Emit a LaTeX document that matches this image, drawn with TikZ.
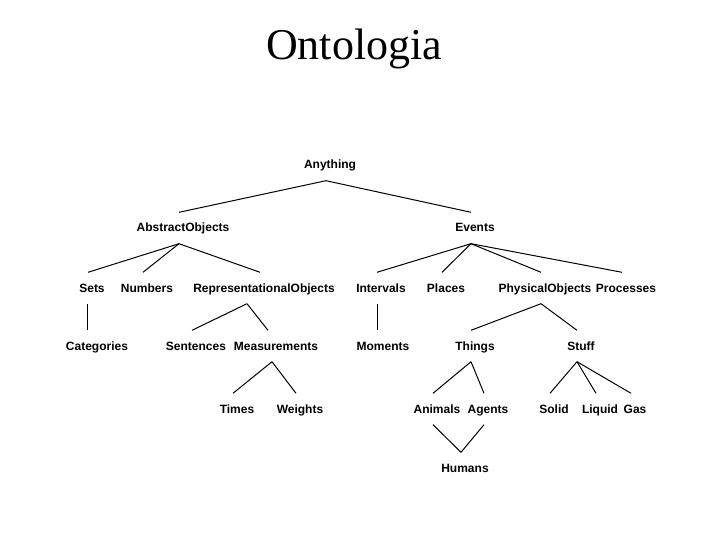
\documentclass[tikz,border=0pt]{standalone}
\usepackage{fontspec}
\setmainfont{Liberation Serif}
\setsansfont{Liberation Sans}

\begin{document}
\begin{tikzpicture}[x=1pt,y=-1pt,
    term/.style={font=\sffamily\bfseries\fontsize{12}{14}\selectfont,
      anchor=base, text height=12.5pt, text depth=4.5pt,
      inner xsep=0pt, inner ysep=7pt},
    link/.style={line width=1pt}]
  \useasboundingbox (0,0) rectangle (720,540);
  \node[font=\fontsize{44}{50}\selectfont, anchor=base] (title) at (354,60) {Ontologia};
  % top levels
  \node[term] (any) at (330,169) {Anything};
  \node[term] (abs) at (183,232) {AbstractObjects};
  \node[term] (ev) at (475,232) {Events};
  % third row
  \node[term] (sets) at (92,292) {Sets};
  \node[term] (num) at (147,292) {Numbers};
  \node[term] (repr) at (264,292) {RepresentationalObjects};
  \node[term] (intv) at (381,292) {Intervals};
  \node[term] (plc) at (446,292) {Places};
  \node[term] (phys) at (545,292) {PhysicalObjects};
  \node[term] (proc) at (626,292) {Processes};
  % fourth row
  \node[term] (cat) at (97,350) {Categories};
  \node[term] (sent) at (196,350) {Sentences};
  \node[term] (meas) at (276,350) {Measurements};
  \node[term] (mom) at (383,350) {Moments};
  \node[term] (thg) at (475,350) {Things};
  \node[term] (stf) at (581,350) {Stuff};
  % fifth row
  \node[term] (tim) at (237,413) {Times};
  \node[term] (wgt) at (300,413) {Weights};
  \node[term] (anim) at (437,413) {Animals};
  \node[term] (agt) at (488,413) {Agents};
  \node[term] (sol) at (554,413) {Solid};
  \node[term] (liq) at (600,413) {Liquid};
  \node[term] (gas) at (635,413) {Gas};
  \node[term] (hum) at (465,472) {Humans};
  % links
  \foreach \a/\b in {any/abs, any/ev, abs/sets, abs/num, abs/repr,
      ev/intv, ev/plc, ev/phys, ev/proc,
      meas/tim, meas/wgt, phys/thg, phys/stf, thg/anim, thg/agt,
      stf/sol, stf/liq, stf/gas, anim/hum, agt/hum} {
    \draw[link] ([xshift=-4pt]\a.south) -- ([xshift=-4pt]\b.north) ;
  }
  \coordinate (reprfoot) at ([xshift=-17pt]repr.south);
  \draw[link] (reprfoot) -- ([xshift=-4pt]sent.north) ;
  \draw[link] (reprfoot) -- ([xshift=-8pt]meas.north) ;
  % straight drops
  \draw[link] ([xshift=-5pt]sets.south) -- ([xshift=-5pt]sets.south |- cat.north) ;
  \draw[link] ([xshift=-4pt]intv.south) -- ([xshift=-4pt]intv.south |- mom.north) ;
\end{tikzpicture}
\end{document}
